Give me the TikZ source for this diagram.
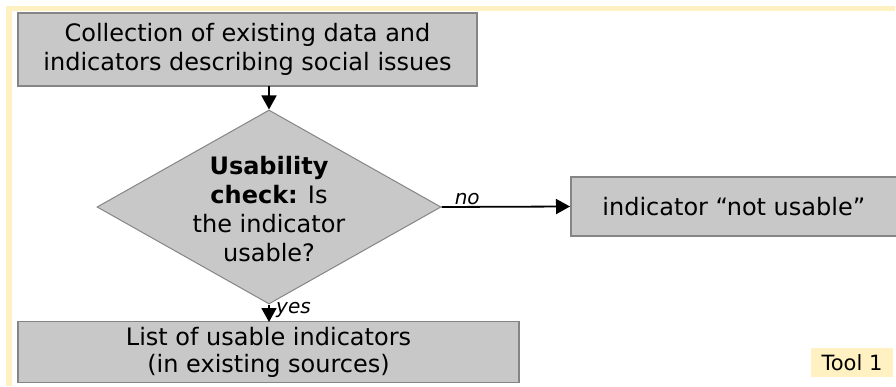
\documentclass[tikz,border=0pt]{standalone}
\usepackage{fontspec}
\setmainfont{DejaVu Sans}
\usetikzlibrary{shapes.geometric,arrows.meta}
\definecolor{boxgray}{HTML}{C8C8C8}
\definecolor{edgegray}{HTML}{858585}
\definecolor{paleyellow}{HTML}{FFF1C1}
\begin{document}
\begin{tikzpicture}[x=1pt,y=-1pt,
  flowbox/.style={draw=edgegray,line width=1.6pt,fill=boxgray,inner sep=0pt,align=center,font=\fontsize{24}{29}\selectfont},
  decision/.style={diamond,draw=edgegray,line width=1pt,fill=boxgray,inner sep=0pt,minimum width=344pt,minimum height=194pt},
  flowarrow/.style={line width=1.8pt,-{Triangle[length=14pt,width=15pt]}},
  edgelabel/.style={font=\fontsize{20}{22}\selectfont\itshape,inner sep=1pt}]
\useasboundingbox (0,0) rectangle (896,387);
% frame
\fill[paleyellow] (6,6) rectangle (895,11);
\fill[paleyellow] (6,6) rectangle (12,386);
% boxes
\node[flowbox,minimum width=459pt,minimum height=73pt] (collect) at (247.5,49.5) {Collection of existing data and\\indicators describing social issues};
\node[decision] (check) at (269,207) {};
\node[align=center,font=\fontsize{24}{29}\selectfont,inner sep=0pt] (checktext) at (269,209) {\textbf{Usability}\\\textbf{check:} Is\\the indicator\\usable?};
\node[flowbox,minimum width=340pt,minimum height=59pt,anchor=west] (notusable) at (570,206.5) {\hspace*{-14pt}indicator “not usable”};
\node[flowbox,minimum width=501pt,minimum height=61pt,font=\fontsize{24}{27}\selectfont] (list) at (268.5,352) {List of usable indicators\\(in existing sources)};
\node[fill=paleyellow,inner sep=0pt,minimum width=82pt,minimum height=29pt,font=\fontsize{21}{24}\selectfont] (tool) at (852,362.5) {Tool 1};
% connectors
\draw[flowarrow] (269,86) coordinate (c1) -- (check.north);
\draw[flowarrow] (check.east) -- node[edgelabel,above,pos=0.2] {no} (notusable.west);
\draw[flowarrow] (check.south) -- (269,322) coordinate (c2);
\node[edgelabel,anchor=west] (yeslabel) at (275,310) {yes};
\end{tikzpicture}
\end{document}
